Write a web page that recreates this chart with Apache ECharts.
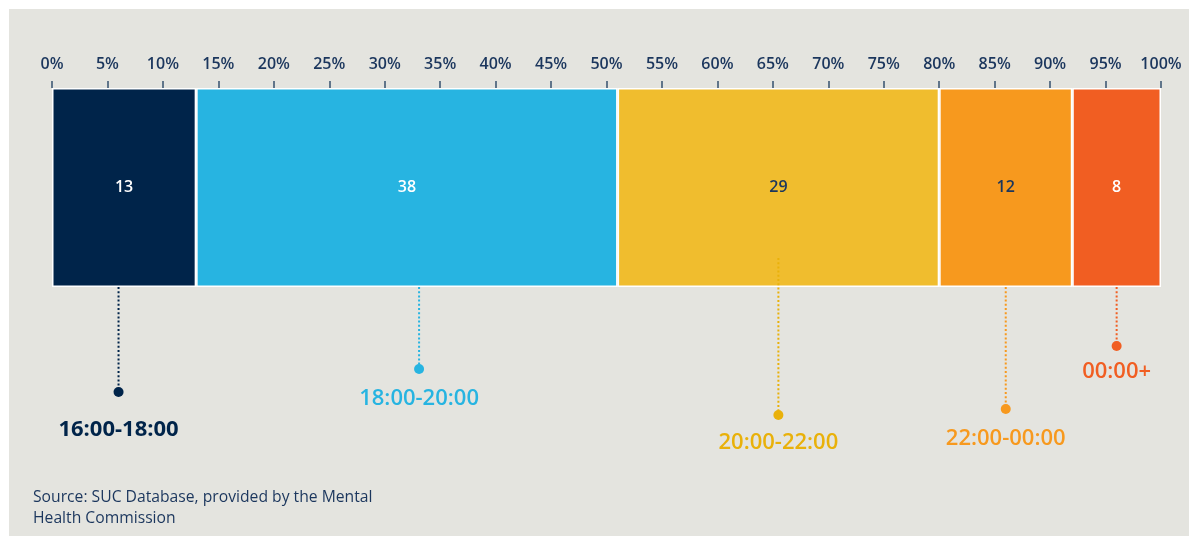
<!DOCTYPE html>
<html>
<head>
<meta charset="utf-8">
<script src="https://cdn.jsdelivr.net/npm/echarts@6/dist/echarts.min.js"></script>
<style>
  html, body { margin: 0; padding: 0; background: #ffffff; }
  #panel { position: absolute; left: 9px; top: 9px; width: 1180px; height: 527px; background: #e4e4df; }
  #main { position: absolute; left: 0; top: 0; width: 1189px; height: 536px; }
</style>
</head>
<body>
<div id="panel"></div>
<div id="main"></div>
<script>
// Share of incidents by time of day (percent of total)
const bands = ['16:00-18:00', '18:00-20:00', '20:00-22:00', '22:00-00:00', '00:00+'];
const shares = [13, 38, 29, 12, 8];
const bandColors = ['#00244a', '#27b4e1', '#f0bd2e', '#f7991e', '#f15e22'];
const valueLabelColors = ['#ffffff', '#ffffff', '#1b365d', '#1b365d', '#ffffff'];
const calloutColors = ['#00244a', '#27b4e1', '#e9b10a', '#f7991e', '#f15e22'];

// Callout anchors along the percent axis, and how far below the bar each marker sits
const calloutAt = [6, 33.1, 65.5, 86, 96];
const calloutDrop = [105, 82, 128, 122, 59];
const calloutStart = [0, 0, -29, 0, 0];

const tickLabels = [0, 5, 10, 15, 20, 25, 30, 35, 40, 45, 50, 55, 60, 65, 70, 75, 80, 85, 90, 95, 100];

const font = '"Open Sans", "Noto Sans", sans-serif';
const navy = '#1b365d';

const chart = echarts.init(document.getElementById('main'));

const barSeries = bands.map((name, i) => ({
  name: name,
  type: 'bar',
  stack: 'total',
  xAxisIndex: 0,
  yAxisIndex: 0,
  barWidth: '100%',
  data: [shares[i]],
  itemStyle: { color: bandColors[i], borderColor: '#ffffff', borderWidth: 1.5 },
  label: {
    show: true,
    position: 'inside',
    color: valueLabelColors[i],
    fontFamily: font,
    fontSize: 16,
    fontWeight: 600
  },
  silent: true
}));

const leaderSeries = bands.map((name, i) => ({
  type: 'line',
  xAxisIndex: 1,
  yAxisIndex: 1,
  data: [[calloutAt[i], calloutStart[i]], [calloutAt[i], calloutDrop[i]]],
  symbol: 'none',
  lineStyle: { color: calloutColors[i], width: 2, type: [2, 2.2] },
  silent: true,
  z: 3
}));

const labelGap = [22, 14, 12, 14, 10];
const labelSize = [22, 22, 22, 22, 22];
const labelWeight = [700, 600, 600, 600, 600];

const dotSeries = {
  type: 'scatter',
  xAxisIndex: 1,
  yAxisIndex: 1,
  symbolSize: 10,
  silent: true,
  z: 4,
  data: bands.map((name, i) => ({
    value: [calloutAt[i], calloutDrop[i]],
    name: name,
    itemStyle: { color: calloutColors[i], opacity: 1 },
    label: {
      show: true,
      position: 'bottom',
      distance: labelGap[i],
      formatter: name,
      color: calloutColors[i],
      fontFamily: font,
      fontSize: labelSize[i],
      fontWeight: labelWeight[i]
    }
  }))
};

chart.setOption({
  animation: false,
  backgroundColor: 'transparent',
  title: {
    text: 'Source: SUC Database, provided by the Mental\nHealth Commission',
    left: 33,
    top: 487,
    padding: 0,
    textStyle: { fontFamily: font, fontSize: 15.7, fontWeight: 400, color: navy, lineHeight: 21 }
  },
  grid: [
    { left: 52, right: 28, top: 88, height: 199 },
    { left: 52, right: 28, top: 88, bottom: 0 }
  ],
  xAxis: [
    {
      type: 'value',
      gridIndex: 0,
      position: 'top',
      min: 0,
      max: 100,
      interval: 5,
      axisLine: { show: false },
      axisTick: { show: true, length: 7, lineStyle: { color: '#34506f', width: 1.5 } },
      splitLine: { show: false },
      axisLabel: {
        margin: 16,
        color: navy,
        fontFamily: font,
        fontSize: 16,
        fontWeight: 600,
        formatter: v => (tickLabels.includes(v) ? v + '%' : '')
      }
    },
    { type: 'value', gridIndex: 1, min: 0, max: 100, show: false }
  ],
  yAxis: [
    { type: 'category', gridIndex: 0, data: ['share'], show: false },
    { type: 'value', gridIndex: 1, inverse: true, min: -199, max: 249, show: false }
  ],
  series: [...barSeries, ...leaderSeries, dotSeries]
});
</script>
</body>
</html>
